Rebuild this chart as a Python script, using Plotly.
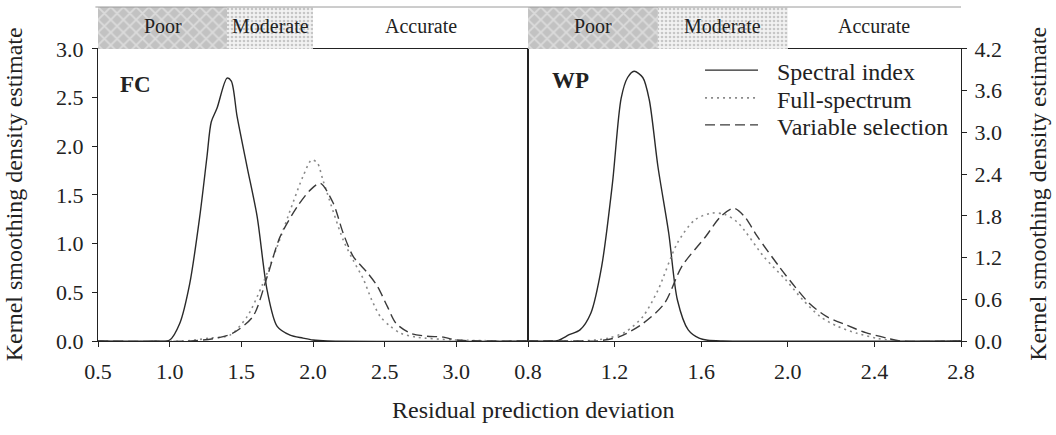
import plotly.graph_objects as go

# ---------------- data ----------------
# FC panel: kernel density of RPD
fc_si_x = [0.5, 0.9, 1.0, 1.07, 1.14, 1.21, 1.26, 1.29, 1.33, 1.40, 1.43, 1.47, 1.54, 1.61, 1.68, 1.75, 1.84, 1.93, 2.0, 2.1, 3.5]
fc_si_y = [0.0, 0.0, 0.01, 0.18, 0.59, 1.28, 1.89, 2.25, 2.39, 2.70, 2.67, 2.31, 1.79, 1.28, 0.52, 0.15, 0.06, 0.03, 0.01, 0.0, 0.0]

fc_fs_x = [0.5, 1.1, 1.28, 1.42, 1.54, 1.65, 1.75, 1.86, 1.93, 1.99, 2.03, 2.07, 2.21, 2.28, 2.35, 2.41, 2.47, 2.54, 2.61, 2.72, 3.0, 3.5]
fc_fs_y = [0.0, 0.0, 0.03, 0.06, 0.25, 0.59, 0.97, 1.42, 1.69, 1.86, 1.83, 1.65, 1.04, 0.83, 0.64, 0.42, 0.25, 0.15, 0.08, 0.04, 0.01, 0.0]

fc_vs_x = [0.5, 1.15, 1.33, 1.44, 1.58, 1.68, 1.77, 1.89, 1.98, 2.05, 2.14, 2.21, 2.28, 2.38, 2.45, 2.52, 2.58, 2.68, 2.79, 2.91, 3.0, 3.5]
fc_vs_y = [0.0, 0.0, 0.03, 0.08, 0.25, 0.66, 1.07, 1.38, 1.55, 1.62, 1.42, 1.11, 0.87, 0.70, 0.56, 0.35, 0.18, 0.08, 0.05, 0.04, 0.01, 0.0]

# WP panel: kernel density of RPD
wp_si_x = [0.8, 0.9, 0.94, 0.99, 1.04, 1.09, 1.14, 1.19, 1.23, 1.26, 1.29, 1.33, 1.36, 1.40, 1.45, 1.49, 1.54, 1.59, 1.63, 1.7, 2.8]
wp_si_y = [0.0, 0.0, 0.01, 0.09, 0.16, 0.40, 1.07, 2.27, 3.49, 3.79, 3.88, 3.79, 3.47, 2.51, 1.55, 0.59, 0.16, 0.04, 0.01, 0.0, 0.0]

wp_fs_x = [0.8, 1.05, 1.17, 1.25, 1.33, 1.40, 1.49, 1.57, 1.65, 1.71, 1.77, 1.89, 1.99, 2.07, 2.15, 2.23, 2.32, 2.41, 2.5, 2.8]
wp_fs_y = [0.0, 0.0, 0.04, 0.13, 0.35, 0.73, 1.41, 1.74, 1.84, 1.82, 1.70, 1.21, 0.88, 0.59, 0.35, 0.21, 0.11, 0.04, 0.0, 0.0]

wp_vs_x = [0.8, 1.05, 1.12, 1.22, 1.33, 1.43, 1.51, 1.62, 1.69, 1.75, 1.80, 1.86, 1.96, 2.02, 2.10, 2.18, 2.27, 2.36, 2.46, 2.52, 2.8]
wp_vs_y = [0.0, 0.0, 0.0, 0.06, 0.25, 0.54, 1.07, 1.50, 1.79, 1.91, 1.79, 1.50, 1.07, 0.83, 0.54, 0.35, 0.23, 0.12, 0.04, 0.0, 0.0]

# RPD accuracy classes shown in the header strip
class_names = ["Poor", "Moderate", "Accurate"]
class_edges_fc = [0.5, 1.4, 2.0, 3.5]
class_edges_wp = [0.8, 1.4, 2.0, 2.8]

series_names = ["Spectral index", "Full-spectrum", "Variable selection"]

fc_ticks = [0.5, 1.0, 1.5, 2.0, 2.5, 3.0]
wp_ticks = [0.8, 1.2, 1.6, 2.0, 2.4, 2.8]

# ---------------- styling ----------------
FONT = "Liberation Serif, Times New Roman, serif"
INK = "#222222"
line_styles = [
    dict(color="#2a2a2a", width=1.4, dash="solid"),
    dict(color="#8a8a8a", width=1.6, dash="2px,4px"),
    dict(color="#3a3a3a", width=1.4, dash="10px,5px"),
]
class_patterns = [
    dict(shape="x", bgcolor="#c2c2c2", fgcolor="#f4f4f4", size=9, solidity=0.35),
    dict(shape=".", bgcolor="#f2f2f2", fgcolor="#9a9a9a", size=4, solidity=0.35),
    None,
]

fig = go.Figure()

panels = [
    ("x", "y", "y3", [(fc_si_x, fc_si_y), (fc_fs_x, fc_fs_y), (fc_vs_x, fc_vs_y)], class_edges_fc),
    ("x2", "y2", "y4", [(wp_si_x, wp_si_y), (wp_fs_x, wp_fs_y), (wp_vs_x, wp_vs_y)], class_edges_wp),
]

for xa, ya, yband, curves, edges in panels:
    # header strip with accuracy classes
    for i, name in enumerate(class_names):
        x0, x1 = edges[i], edges[i + 1]
        if class_patterns[i] is not None:
            fig.add_trace(go.Scatter(
                x=[x0, x1, x1, x0, x0], y=[0, 0, 1, 1, 0],
                xaxis=xa, yaxis=yband, mode="lines", fill="toself",
                fillcolor="rgba(0,0,0,0)", fillpattern=class_patterns[i],
                line=dict(width=0), hoverinfo="skip", showlegend=False))
        fig.add_annotation(x=(x0 + x1) / 2, y=0.55, xref=xa, yref=yband,
                           text=name, showarrow=False,
                           font=dict(family=FONT, size=20, color=INK))
    # density curves
    for (cx, cy), name, st in zip(curves, series_names, line_styles):
        fig.add_trace(go.Scatter(
            x=cx, y=cy, xaxis=xa, yaxis=ya, mode="lines", name=name,
            line=dict(color=st["color"], width=st["width"], dash=st["dash"],
                      shape="spline", smoothing=0.8),
            showlegend=False))

# panel labels
fig.add_annotation(x=0.64, y=2.64, xref="x", yref="y", text="<b>FC</b>",
                   showarrow=False, xanchor="left",
                   font=dict(family=FONT, size=23, color=INK))
fig.add_annotation(x=0.90, y=3.75, xref="x2", yref="y2", text="<b>WP</b>",
                   showarrow=False, xanchor="left",
                   font=dict(family=FONT, size=23, color=INK))

# legend (line samples + labels) in the WP panel
legend_y = [0.811, 0.728, 0.647]
for name, st, ly in zip(series_names, line_styles, legend_y):
    fig.add_shape(type="line", xref="paper", yref="paper",
                  x0=0.7034, x1=0.7648, y0=ly, y1=ly,
                  line=dict(color=st["color"], width=st["width"], dash=st["dash"]))
    fig.add_annotation(x=0.7845, y=ly - 0.006, xref="paper", yref="paper",
                       text=name, showarrow=False, xanchor="left", yanchor="middle",
                       font=dict(family=FONT, size=24, color=INK))

# thin rule on top of the header strip
fig.add_shape(type="line", xref="paper", yref="paper", x0=-0.003, x1=1.0,
              y0=1.0, y1=1.0, line=dict(color="#9a9a9a", width=1))

# axis titles
fig.add_annotation(x=0.505, y=-0.207, xref="paper", yref="paper",
                   text="Residual prediction deviation", showarrow=False,
                   xanchor="center", yanchor="middle",
                   font=dict(family=FONT, size=24, color=INK))
fig.add_annotation(x=-0.097, y=0.44, xref="paper", yref="paper",
                   text="Kernel smoothing density estimate", showarrow=False,
                   xanchor="center", yanchor="middle", textangle=-90,
                   font=dict(family=FONT, size=24, color=INK))
fig.add_annotation(x=1.089, y=0.44, xref="paper", yref="paper",
                   text="Kernel smoothing density estimate", showarrow=False,
                   xanchor="center", yanchor="middle", textangle=-90,
                   font=dict(family=FONT, size=24, color=INK))

main_dom = [0, 0.8743]
band_dom = [0.8743, 1]
split = 0.4983

axis_common = dict(showline=True, linecolor=INK, linewidth=1, mirror=True,
                   ticks="outside", ticklen=5, tickcolor=INK, showgrid=False,
                   zeroline=False, automargin=False,
                   tickfont=dict(family=FONT, size=22, color=INK))

fig.update_layout(
    width=1056, height=435,
    margin=dict(l=98, r=95, t=7, b=94, autoexpand=False),
    plot_bgcolor="white", paper_bgcolor="white",
    showlegend=False,
    font=dict(family=FONT, size=21, color=INK),
    xaxis=dict(domain=[0, split], range=[0.5, 3.5], anchor="y", ticklabelstandoff=6,
               tickvals=fc_ticks, ticktext=[f"{v:.1f}" for v in fc_ticks], **axis_common),
    xaxis2=dict(domain=[split, 1], range=[0.8, 2.8], anchor="y2", ticklabelstandoff=6,
                tickvals=wp_ticks, ticktext=[f"{v:.1f}" for v in wp_ticks], **axis_common),
    yaxis=dict(domain=main_dom, range=[0, 3.0], anchor="x", dtick=0.5, ticklabelstandoff=4,
               tickformat=".1f", **axis_common),
    yaxis2=dict(domain=main_dom, range=[0, 4.2], anchor="x2", side="right", ticklabelstandoff=3,
                dtick=0.6, tickformat=".1f", **axis_common),
    yaxis3=dict(domain=band_dom, range=[0, 1], anchor="x", visible=False, fixedrange=True),
    yaxis4=dict(domain=band_dom, range=[0, 1], anchor="x2", visible=False, fixedrange=True),
)

fig.write_html("out.html")
